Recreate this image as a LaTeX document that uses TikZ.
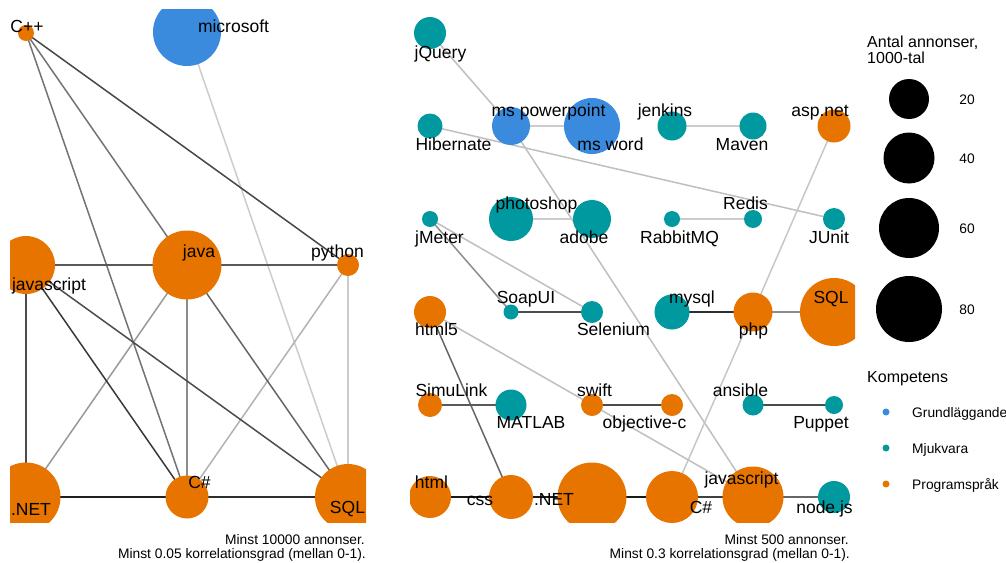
\documentclass[tikz,border=0pt]{standalone}
\usepackage{fontspec}
\setmainfont{Liberation Sans}
\definecolor{cblue}{HTML}{3A8BDD}
\definecolor{cteal}{HTML}{0099A0}
\definecolor{corange}{HTML}{E87400}
\tikzset{
  lab/.style={font=\fontsize{17.5}{20}\selectfont, inner sep=0pt, anchor=base},
  lnk/.style={line width=1.5pt, draw=black!#1},
  legt/.style={font=\fontsize{16}{16}\selectfont, inner sep=0pt, anchor=base west},
  legl/.style={font=\fontsize{13.8}{14}\selectfont, inner sep=0pt},
  capt/.style={font=\fontsize{13.8}{14}\selectfont, inner sep=0pt, anchor=base east},
}
\newcommand\bb[3]{\node[circle,inner sep=0pt,fill=#2,minimum size={2*#3pt}] (#1n) at (#1) {};}
\newcommand\lb[4]{\node[lab] (#1l) at (#2,#3) {#4};}
\begin{document}
\begin{tikzpicture}[x=1pt,y=-1pt]
\useasboundingbox (0,0) rectangle (1006,562);
% ---------------- left panel ----------------
\begin{scope}
\clip (10,9) rectangle (366,522);
\coordinate (cpp) at (26,33);
\coordinate (ms) at (187,32);
\coordinate (java) at (187,265);
\coordinate (py) at (348,265);
\coordinate (jsL) at (26,265);
\coordinate (netL) at (26,497);
\coordinate (csL) at (187,497);
\coordinate (sqlL) at (348,497);
\draw[lnk=20] (ms) -- (sqlL);
\draw[lnk=20] (py) -- (sqlL);
\draw[lnk=30] (py) -- (csL);
\draw[lnk=40] (java) -- (netL);
\draw[lnk=45] (java) -- (csL);
\draw[lnk=60] (java) -- (sqlL);
\draw[lnk=55] (cpp) -- (java);
\draw[lnk=55] (cpp) -- (csL);
\draw[lnk=72] (cpp) -- (py);
\draw[lnk=70] (jsL) -- (netL);
\draw[lnk=65] (jsL) -- (java);
\draw[lnk=65] (java) -- (py);
\draw[lnk=78] (jsL) -- (csL);
\draw[lnk=70] (jsL) -- (sqlL);
\draw[lnk=88] (netL) -- (csL);
\draw[lnk=82] (csL) -- (sqlL);
\bb{cpp}{corange}{8}
\bb{ms}{cblue}{34}
\bb{java}{corange}{34.5}
\bb{py}{corange}{11}
\bb{jsL}{corange}{29}
\bb{netL}{corange}{34.5}
\bb{csL}{corange}{21.5}
\bb{sqlL}{corange}{33}
\lb{cpp}{27}{32}{C++}
\lb{ms}{233.5}{32}{microsoft}
\lb{java}{199}{257}{java}
\lb{py}{337.5}{257}{python}
\lb{jsL}{49}{290}{javascript}
\lb{netL}{31}{515}{.NET}
\lb{csL}{199.5}{488}{C\#}
\lb{sqlL}{347.5}{513}{SQL}
\end{scope}
\node[capt] (capL1) at (365,544) {Minst 10000 annonser.};
\node[capt] (capL2) at (366,558) {Minst 0.05 korrelationsgrad (mellan 0-1).};
% ---------------- right panel ----------------
\begin{scope}
\clip (410,9) rectangle (855,522);
\coordinate (jq) at (430,33);
\coordinate (hib) at (430,126);
\coordinate (mspp) at (511,126);
\coordinate (msw) at (592,126);
\coordinate (jen) at (672,126);
\coordinate (mav) at (753,126);
\coordinate (asp) at (834,126);
\coordinate (jme) at (430,219);
\coordinate (pho) at (511,219);
\coordinate (ado) at (592,219);
\coordinate (rab) at (672,219);
\coordinate (red) at (753,219);
\coordinate (jun) at (834,219);
\coordinate (htf) at (430,312);
\coordinate (soa) at (511,312);
\coordinate (sel) at (592,312);
\coordinate (mys) at (672,312);
\coordinate (php) at (753,312);
\coordinate (sqlR) at (834,312);
\coordinate (sim) at (430,405);
\coordinate (mat) at (511,405);
\coordinate (swi) at (592,405);
\coordinate (obj) at (672,405);
\coordinate (ans) at (753,405);
\coordinate (pup) at (834,405);
\coordinate (htm) at (430,497);
\coordinate (css) at (511,497);
\coordinate (netR) at (592,497);
\coordinate (csR) at (672,497);
\coordinate (jsR) at (753,497);
\coordinate (nod) at (834,497);
\draw[lnk=25] (jq) -- (mspp);
\draw[lnk=20] (mspp) -- (msw);
\draw[lnk=25] (mspp) -- (jsR);
\draw[lnk=25] (hib) -- (jun);
\draw[lnk=20] (jen) -- (mav);
\draw[lnk=22] (asp) -- (php);
\draw[lnk=22] (php) -- (csR);
\draw[lnk=20] (pho) -- (ado);
\draw[lnk=20] (rab) -- (red);
\draw[lnk=25] (jme) -- (sel);
\draw[lnk=45] (jme) -- (soa);
\draw[lnk=70] (soa) -- (sel);
\draw[lnk=82] (mys) -- (php);
\draw[lnk=45] (php) -- (sqlR);
\draw[lnk=60] (htf) -- (css);
\draw[lnk=25] (htf) -- (jsR);
\draw[lnk=65] (sim) -- (mat);
\draw[lnk=70] (swi) -- (obj);
\draw[lnk=70] (ans) -- (pup);
\draw[lnk=90] (htm) -- (css);
\draw[lnk=90] (css) -- (netR);
\draw[lnk=90] (netR) -- (csR);
\draw[lnk=75] (csR) -- (jsR);
\draw[lnk=60] (jsR) -- (nod);
\bb{jq}{cteal}{16}
\bb{hib}{cteal}{12.5}
\bb{mspp}{cblue}{19}
\bb{msw}{cblue}{28}
\bb{jen}{cteal}{14.5}
\bb{mav}{cteal}{13.5}
\bb{asp}{corange}{16.5}
\bb{jme}{cteal}{8}
\bb{pho}{cteal}{22}
\bb{ado}{cteal}{19}
\bb{rab}{cteal}{8}
\bb{red}{cteal}{9}
\bb{jun}{cteal}{11}
\bb{htf}{corange}{16}
\bb{soa}{cteal}{7.5}
\bb{sel}{cteal}{11}
\bb{mys}{cteal}{17.5}
\bb{php}{corange}{19.5}
\bb{sqlR}{corange}{34}
\bb{sim}{corange}{12}
\bb{mat}{cteal}{15.5}
\bb{swi}{corange}{11}
\bb{obj}{corange}{11}
\bb{ans}{cteal}{10.5}
\bb{pup}{cteal}{9}
\bb{htm}{corange}{21}
\bb{css}{corange}{22}
\bb{netR}{corange}{34.5}
\bb{csR}{corange}{26}
\bb{jsR}{corange}{30.5}
\bb{nod}{cteal}{16}
\lb{jq}{440.5}{58}{jQuery}
\lb{mspp}{548.5}{116}{ms powerpoint}
\lb{jen}{665}{116}{jenkins}
\lb{asp}{820}{116}{asp.net}
\lb{hib}{453.5}{150}{Hibernate}
\lb{msw}{610.5}{150}{ms word}
\lb{mav}{742}{150}{Maven}
\lb{pho}{536.5}{209}{photoshop}
\lb{red}{745.5}{209}{Redis}
\lb{jme}{439.5}{243}{jMeter}
\lb{ado}{584}{243}{adobe}
\lb{rab}{679.5}{243}{RabbitMQ}
\lb{jun}{829}{243}{JUnit}
\lb{soa}{526}{303}{SoapUI}
\lb{mys}{692}{303}{mysql}
\lb{sqlR}{831}{303}{SQL}
\lb{htf}{436.5}{335}{html5}
\lb{sel}{613.5}{335}{Selenium}
\lb{php}{753.5}{335}{php}
\lb{sim}{451.5}{396}{SimuLink}
\lb{swi}{594.5}{396}{swift}
\lb{ans}{740.5}{396}{ansible}
\lb{mat}{531}{428}{MATLAB}
\lb{obj}{644.5}{428}{objective-c}
\lb{pup}{821}{428}{Puppet}
\lb{htm}{431.5}{488}{html}
\lb{jsR}{741.5}{484}{javascript}
\lb{css}{480}{505}{css}
\lb{netR}{554}{505}{.NET}
\lb{csR}{701}{513}{C\#}
\lb{nod}{824.5}{513}{node.js}
\end{scope}
\node[capt] (capR1) at (849,544) {Minst 500 annonser.};
\node[capt] (capR2) at (850,558) {Minst 0.3 korrelationsgrad (mellan 0-1).};
% ---------------- legend ----------------
\node[legt] (lt1) at (867,47) {Antal annonser,};
\node[legt] (lt2) at (867,63) {1000-tal};
\node[circle,inner sep=0pt,fill=black,minimum size=40pt] (s20) at (909,99) {};
\node[circle,inner sep=0pt,fill=black,minimum size=51pt] (s40) at (909,158) {};
\node[circle,inner sep=0pt,fill=black,minimum size=60pt] (s60) at (909,228) {};
\node[circle,inner sep=0pt,fill=black,minimum size=66pt] (s80) at (909,309) {};
\node[legl,anchor=base] (l20) at (967,104) {20};
\node[legl,anchor=base] (l40) at (967,163) {40};
\node[legl,anchor=base] (l60) at (967,233) {60};
\node[legl,anchor=base] (l80) at (967,314) {80};
\node[legt] (kt) at (867,382) {Kompetens};
\node[circle,inner sep=0pt,fill=cblue,minimum size=7pt] (d1) at (886,412) {};
\node[circle,inner sep=0pt,fill=cteal,minimum size=7pt] (d2) at (886,448) {};
\node[circle,inner sep=0pt,fill=corange,minimum size=7pt] (d3) at (886,484) {};
\node[legl,anchor=base west] (k1) at (912,417) {Grundläggande};
\node[legl,anchor=base west] (k2) at (912,453) {Mjukvara};
\node[legl,anchor=base west] (k3) at (912,489) {Programspråk};
\end{tikzpicture}
\end{document}
